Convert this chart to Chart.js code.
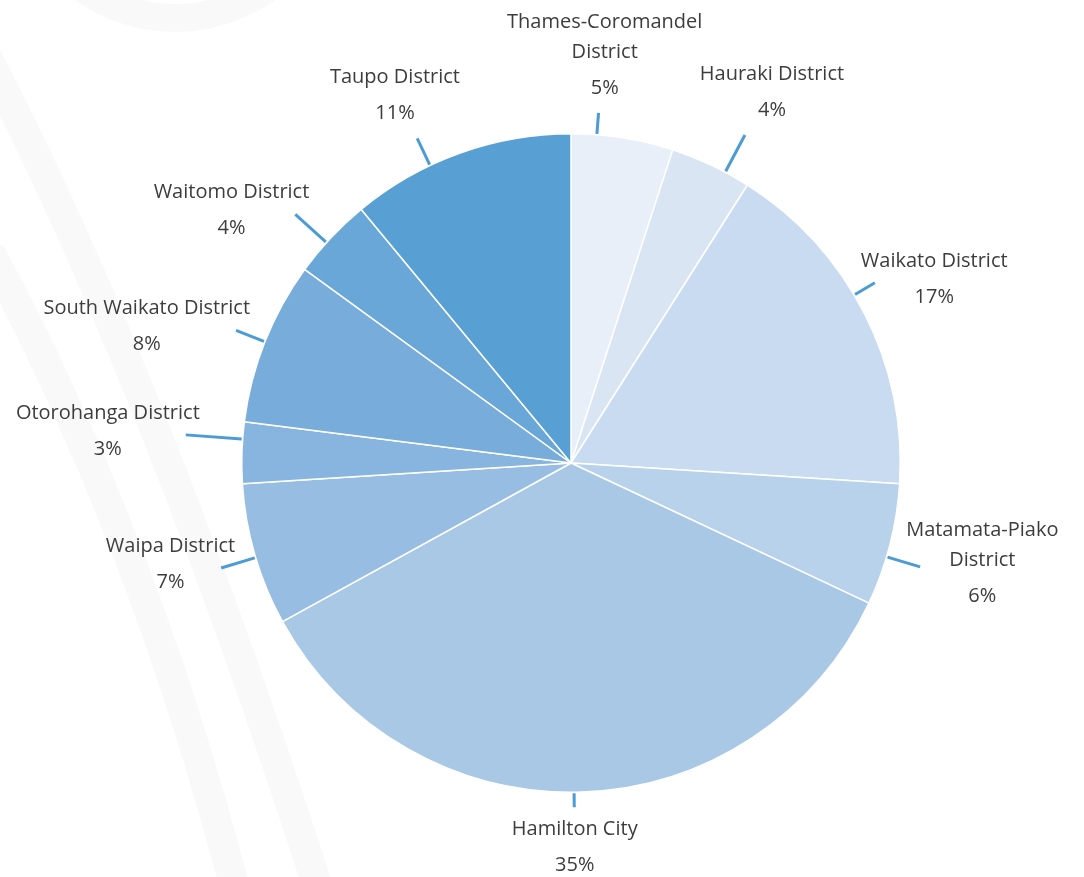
<!DOCTYPE html>
<html>
<head>
<meta charset="utf-8">
<title>Waikato region share by district</title>
<script src="https://cdn.jsdelivr.net/npm/chart.js@4.4.0/dist/chart.umd.min.js"></script>
<style>
  html, body { margin: 0; padding: 0; background: #fff; }
  canvas { display: block; }
</style>
</head>
<body>
<canvas id="pie" width="1084" height="877"></canvas>
<script>
// data, clockwise from 12 o'clock
const districts = [
    ['Thames-Coromandel', 'District'],
    'Hauraki District',
    'Waikato District',
    ['Matamata-Piako', 'District'],
    'Hamilton City',
    'Waipa District',
    'Otorohanga District',
    'South Waikato District',
    'Waitomo District',
    'Taupo District'
];
const shares = [5, 4, 17, 6, 35, 7, 3, 8, 4, 11];

const sliceColours = ['#e8eff9', '#dae5f4', '#c9dbf0', '#b8d2eb', '#a8c8e6',
                      '#98bde2', '#87b5df', '#78addb', '#68a7d8', '#58a0d3'];

// leader lines: where they leave each slice (fraction along the arc) and length
const leaderAt = [0.25, 0.69, 0.44, 0.6, 0.51, 0.48, 0.72, 0.5, 0.42, 0.36];
const leaderLen = [22, 42, 24, 35, 15, 36, 57, 31, 42, 30];

// faint rings in the background
const watermark = {
    id: 'watermark',
    beforeDraw(chart) {
        const c = chart.ctx;
        c.save();
        c.fillStyle = '#fff';
        c.fillRect(0, 0, chart.width, chart.height);
        c.strokeStyle = '#f9f9f9';
        c.lineWidth = 28;
        c.beginPath();
        c.arc(175, -140, 158, 0, Math.PI * 2);
        c.stroke();
        c.lineWidth = 30;
        c.beginPath();
        c.moveTo(-10, 252);
        c.quadraticCurveTo(145, 540, 238, 900);
        c.stroke();
        c.beginPath();
        c.moveTo(-14, 55);
        c.quadraticCurveTo(155, 380, 322, 900);
        c.stroke();
        c.restore();
    }
};

const leaderLabels = {
    id: 'leaderLabels',
    afterDraw(chart) {
        const c = chart.ctx;
        const arcs = chart.getDatasetMeta(0).data;
        c.save();
        c.font = '20px "Open Sans"';
        c.textAlign = 'center';
        c.textBaseline = 'middle';
        arcs.forEach((arc, i) => {
            const p = arc.getProps(['x', 'y', 'startAngle', 'endAngle', 'outerRadius'], true);
            const a = p.startAngle + (p.endAngle - p.startAngle) * leaderAt[i];
            const dx = Math.cos(a), dy = Math.sin(a);
            const r0 = p.outerRadius + 1, r1 = p.outerRadius + leaderLen[i];
            c.strokeStyle = '#4b9cd5';
            c.lineWidth = 3;
            c.beginPath();
            c.moveTo(p.x + dx * r0, p.y + dy * r0);
            c.lineTo(p.x + dx * r1, p.y + dy * r1);
            c.stroke();

            const ex = p.x + dx * r1, ey = p.y + dy * r1;
            const lines = [].concat(districts[i]);
            const w = Math.max(...lines.map(s => c.measureText(s).width));
            const h = (lines.length - 1) * 30 + 36; // first line to percent line
            let cx, top;
            if (Math.abs(dx) >= 0.5) {
                cx = ex + Math.sign(dx) * (w / 2 - 14);
                top = ey - 4 - h / 2;
            } else if (dy < 0) {
                cx = ex + dx * w / 2 * 0.8;
                top = ey - 25 - h;
            } else {
                cx = ex + dx * w / 2 * 0.8;
                top = ey + 22;
            }
            c.fillStyle = '#3d3d3d';
            lines.forEach((s, k) => c.fillText(s, cx, top + k * 30));
            c.fillText(shares[i] + '%', cx, top + h);
        });
        c.restore();
    }
};

new Chart(document.getElementById('pie').getContext('2d'), {
    type: 'pie',
    data: {
        labels: districts,
        datasets: [{
            data: shares,
            backgroundColor: sliceColours,
            borderColor: '#ffffff',
            borderWidth: 1.5
        }]
    },
    options: {
        responsive: false,
        animation: false,
        events: [],
        layout: { padding: { top: 133, bottom: 84, left: 241, right: 183 } },
        plugins: {
            legend: { display: false },
            tooltip: { enabled: false }
        }
    },
    plugins: [watermark, leaderLabels]
});
</script>
</body>
</html>
